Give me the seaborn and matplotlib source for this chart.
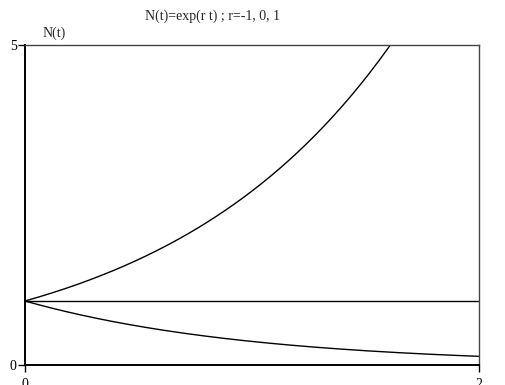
import numpy as np
import pandas as pd
import matplotlib
matplotlib.use("Agg")
import matplotlib.pyplot as plt
import seaborn as sns

# Growth rates shown, and the time grid of N(t) = exp(r t)
rates = [-1, 0, 1]
t_values = np.linspace(0, 2, 201)
x_ticks = [0, 2]
y_ticks = [0, 5]

frames = []
for r in rates:
    frames.append(pd.DataFrame({"t": t_values, "N": np.exp(r * t_values), "r": r}))
data = pd.concat(frames, ignore_index=True)

sns.set_style("white")
plt.rcParams["font.family"] = ["Liberation Serif", "DejaVu Serif"]

fig = plt.figure(figsize=(5.06, 3.85), dpi=100)
ax = fig.add_axes([25 / 506, 20 / 385, 454 / 506, 320 / 385])

sns.lineplot(data=data, x="t", y="N", hue="r", palette=["black"] * 3,
             legend=False, linewidth=1.0, ax=ax)

ax.set_xlim(0, 2)
ax.set_ylim(0, 5)
ax.set_xticks(x_ticks)
ax.set_yticks(y_ticks)
ax.set_xlabel("")
ax.set_ylabel("")

for side in ["left", "bottom"]:
    ax.spines[side].set_linewidth(1.4)
    ax.spines[side].set_color("black")
for side in ["top", "right"]:
    ax.spines[side].set_linewidth(1.0)
    ax.spines[side].set_color("#444444")

ax.tick_params(axis="both", direction="out", length=5, width=1.0,
               colors="black", labelsize=10, pad=1, bottom=True, left=True)
ax.tick_params(axis="x", pad=4)

ax.text(54 / 506, 1 - 33 / 385, "N(t)", transform=fig.transFigure, fontsize=10,
        ha="center", va="center")
fig.text(213 / 506, 1 - 16 / 385, "N(t)=exp(r t) ; r=-1, 0, 1", fontsize=10,
         ha="center", va="center")

fig.savefig("out.png", dpi=100)
